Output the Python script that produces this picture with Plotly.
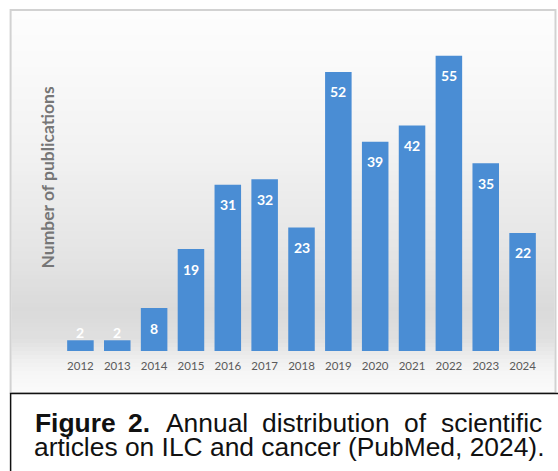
import plotly.graph_objects as go

# ---- data ----
years = ["2012", "2013", "2014", "2015", "2016", "2017", "2018",
         "2019", "2020", "2021", "2022", "2023", "2024"]
counts = [2, 2, 8, 19, 31, 32, 23, 52, 39, 42, 55, 35, 22]
y_title = "Number of publications"
caption_line1 = [("Figure", True, 32), ("2.", True, 126), ("Annual", False, 164),
                 ("distribution", False, 260), ("of", False, 402), ("scientific", False, 439)]
caption_line2 = "articles on ILC and cancer (PubMed, 2024)."

# ---- layout geometry (pixels) ----
W, H = 558, 471
L, R, T, B = 61.5, 16.5, 29, 120
pw = W - L - R
ph = H - T - B


def px(x):
    return (x - L) / pw


def py(y):
    return (H - B - y) / ph


fig = go.Figure()
fig.add_trace(go.Bar(
    x=years, y=counts,
    marker=dict(color="#4a8dd4", line=dict(width=0)),
    hoverinfo="x+y",
))

shapes = []
# background gradient of chart area
stops = [(11, (253, 253, 253)), (60, (250, 250, 250)), (150, (242, 242, 242)),
         (250, (229, 229, 229)), (310, (218, 218, 218)), (340, (224, 224, 224)),
         (355, (236, 236, 236)), (372, (246, 246, 246)), (392, (251, 251, 251))]


def col_at(y):
    for (y0, c0), (y1, c1) in zip(stops[:-1], stops[1:]):
        if y0 <= y <= y1:
            t = (y - y0) / (y1 - y0)
            return tuple(round(a + (b - a) * t) for a, b in zip(c0, c1))
    return stops[-1][1]


yy = 11
step = 4
while yy < 392:
    y2 = min(yy + step, 392)
    c = col_at((yy + y2) / 2)
    shapes.append(dict(type="rect", xref="paper", yref="paper", layer="below",
                       x0=px(11), x1=px(555), y0=py(y2), y1=py(yy),
                       fillcolor="rgb(%d,%d,%d)" % c, line=dict(width=0)))
    yy = y2

# chart frame
shapes.append(dict(type="rect", xref="paper", yref="paper", layer="above",
                   x0=px(10), x1=px(556), y0=py(393), y1=py(10),
                   line=dict(color="#d2d2d2", width=2), fillcolor="rgba(0,0,0,0)"))
# caption box
shapes.append(dict(type="rect", xref="paper", yref="paper", layer="above",
                   x0=px(10), x1=px(575), y0=py(485), y1=py(393.5),
                   line=dict(color="#111111", width=1.5), fillcolor="rgba(0,0,0,0)"))

annotations = []
# data labels
for i, v in enumerate(counts):
    annotations.append(dict(x=i, y=v, xref="x", yref="y", text=str(v),
                            showarrow=False, yshift=(-20 if v >= 5 else 8),
                            font=dict(family="Lato", size=14, color="white", weight="bold")))
# y title
annotations.append(dict(x=px(46), y=py(178), xref="paper", yref="paper", text=y_title,
                        textangle=-90, showarrow=False, xanchor="center", yanchor="middle",
                        font=dict(family="Lato", size=17.5, color="#767676", weight="bold")))
# caption
for word, bold, x0 in caption_line1:
    annotations.append(dict(x=px(x0), y=py(423), xref="paper", yref="paper",
                            text=("<b>%s</b>" % word) if bold else word,
                            showarrow=False, xanchor="left", yanchor="middle",
                            font=dict(family="Liberation Sans", size=26.4, color="#111111")))
annotations.append(dict(x=px(31), y=py(447), xref="paper", yref="paper", text=caption_line2,
                        showarrow=False, xanchor="left", yanchor="middle",
                        font=dict(family="Liberation Sans", size=26.4, color="#111111")))

fig.update_layout(
    width=W, height=H,
    margin=dict(l=L, r=R, t=T, b=B, pad=0),
    paper_bgcolor="white",
    plot_bgcolor="rgba(0,0,0,0)",
    bargap=0.28,
    showlegend=False,
    shapes=shapes,
    annotations=annotations,
    xaxis=dict(type="category", range=[-0.5, len(years) - 0.5], showgrid=False,
               showline=False, zeroline=False, ticks="", ticklabelstandoff=6,
               tickfont=dict(family="Lato", size=11.5, color="#5a5a5a")),
    yaxis=dict(range=[0, 60], showgrid=False, showline=False, zeroline=False,
               showticklabels=False, ticks=""),
)

fig.write_html("out.html")
